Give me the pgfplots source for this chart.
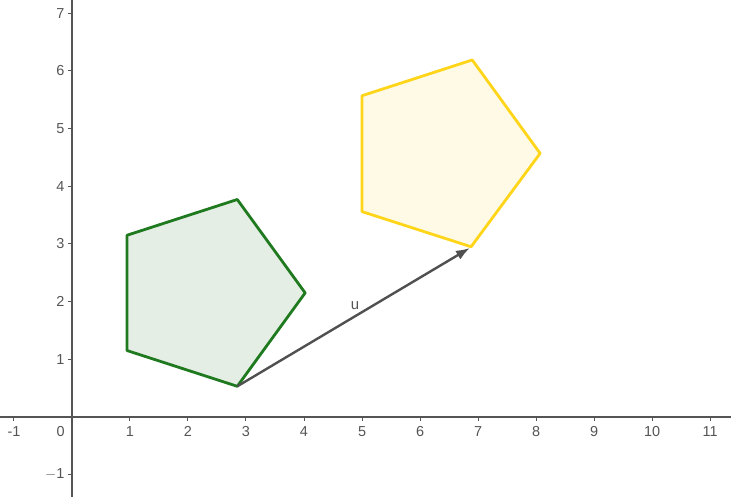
\documentclass[border=0pt]{standalone}
\usepackage{fontspec}
\setmainfont{Liberation Sans}
\usepackage{pgfplots}
\pgfplotsset{compat=1.18}
\usetikzlibrary{arrows.meta}

\definecolor{axisgray}{HTML}{555555}
\definecolor{pgreen}{HTML}{1F7A1F}
\definecolor{pgreenfill}{HTML}{E5EEE5}
\definecolor{pyellow}{HTML}{FFD51A}
\definecolor{pyellowfill}{HTML}{FFFAE6}
\definecolor{vecgray}{HTML}{505050}

\begin{document}
\begin{tikzpicture}
\begin{axis}[
    width=731bp, height=497bp, scale only axis,
    xmin=-1.24, xmax=11.36,
    ymin=-1.39, ymax=7.23,
    axis lines=middle,
    axis line style={-, draw=axisgray, line width=1.4bp},
    xtick={-1,1,2,3,4,5,6,7,8,9,10,11},
    xticklabels={-1,1,2,3,4,5,6,7,8,9,10,11},
    ytick={-1,1,2,3,4,5,6,7},
    yticklabels={$-$1,1,2,3,4,5,6,7},
    tick align=outside,
    major tick length=4bp,
    tick style={axisgray, line width=1bp},
    ticklabel style={font=\fontsize{14.5}{16}\selectfont, text=axisgray},
    xticklabel style={yshift=-2bp},
    clip=false,
]
% green pentagon
\addplot[draw=pgreen, fill=pgreenfill, line width=2.8bp, line join=round]
coordinates {(0.95,1.15) (0.95,3.15) (2.85,3.77) (4.02,2.15) (2.85,0.53)} -- cycle;
% yellow pentagon (translated by u)
\addplot[draw=pyellow, fill=pyellowfill, line width=2.8bp, line join=round]
coordinates {(5.00,3.56) (5.00,5.57) (6.90,6.19) (8.07,4.57) (6.88,2.95)} -- cycle;
% vector u
\addplot[vecgray, line width=2.4bp, -{Latex[length=14bp, width=10bp]}]
coordinates {(2.85,0.53) (6.86,2.93)};
\node[font=\fontsize{15}{17}\selectfont, text=axisgray] at (axis cs:4.88,1.93) {u};
\node[font=\fontsize{14.5}{16}\selectfont, text=axisgray, anchor=north east, inner sep=0pt]
    at (axis cs:-0.12,-0.17) {0};
\end{axis}
\pgfresetboundingbox
\path (current axis.south west) rectangle (current axis.north east);
\end{tikzpicture}
\end{document}
